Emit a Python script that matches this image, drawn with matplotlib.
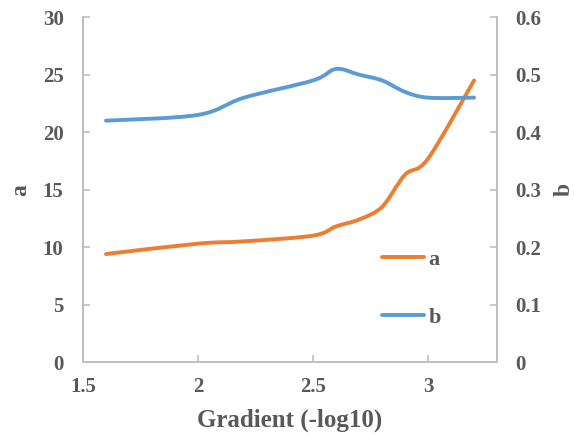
import numpy as np
import matplotlib
matplotlib.use('Agg')
import matplotlib.pyplot as plt
from matplotlib.path import Path
from matplotlib.patches import PathPatch
from matplotlib.lines import Line2D

# Data
gradient = [1.6, 2.0, 2.2, 2.5, 2.6, 2.7, 2.8, 2.9, 3.0, 3.2]
a_vals = [9.4, 10.3, 10.5, 11.0, 11.8, 12.4, 13.5, 16.3, 17.7, 24.5]
b_vals = [0.42, 0.43, 0.46, 0.49, 0.51, 0.50, 0.49, 0.47, 0.46, 0.46]

ORANGE = '#ED7D31'
BLUE = '#5B9BD5'
GREY = '#595959'
SPINE = '#BFBFBF'
LW = 2.8

plt.rcParams['font.family'] = ['Liberation Serif', 'DejaVu Serif']
plt.rcParams['font.weight'] = 'bold'


def smooth_path(xs, ys):
    # Excel-like smoothed line: cubic bezier through the points
    pts = np.column_stack([xs, ys]).astype(float)
    n = len(pts)
    verts = [pts[0]]
    codes = [Path.MOVETO]
    for i in range(n - 1):
        p0 = pts[i - 1] if i > 0 else pts[i]
        p1 = pts[i]
        p2 = pts[i + 1]
        p3 = pts[i + 2] if i + 2 < n else pts[i + 1]
        c1 = p1 + (p2 - p0) / 6.0
        c2 = p2 - (p3 - p1) / 6.0
        verts += [c1, c2, p2]
        codes += [Path.CURVE4] * 3
    return Path(verts, codes)


def add_series(ax, xs, ys, color):
    patch = PathPatch(smooth_path(xs, ys), facecolor='none', edgecolor=color,
                      linewidth=LW, capstyle='round', joinstyle='round')
    ax.add_patch(patch)


fig = plt.figure(figsize=(5.74, 4.41), dpi=100)
ax1 = fig.add_axes([0.1446, 0.179, 0.7214, 0.782])
ax2 = ax1.twinx()

add_series(ax1, gradient, a_vals, ORANGE)
add_series(ax2, gradient, b_vals, BLUE)

ax1.set_xlim(1.5, 3.3)
ax1.set_ylim(0, 30)
ax2.set_ylim(0, 0.6)
ax1.set_xticks([1.5, 2, 2.5, 3])
ax1.set_xticklabels(['1.5', '2', '2.5', '3'])
ax1.set_yticks(range(0, 31, 5))
ax2.set_yticks([0, 0.1, 0.2, 0.3, 0.4, 0.5, 0.6])
ax2.set_yticklabels(['0', '0.1', '0.2', '0.3', '0.4', '0.5', '0.6'])

for ax in (ax1, ax2):
    for s in ax.spines.values():
        s.set_color(SPINE)
        s.set_linewidth(1.3)
    ax.spines['top'].set_visible(False)

ax1.tick_params(axis='x', direction='in', length=5, width=1.2, color=SPINE,
                labelsize=15, labelcolor=GREY, pad=11)
ax1.tick_params(axis='y', direction='in', length=5, width=1.2, color=SPINE,
                labelsize=15, labelcolor=GREY, pad=14)
ax2.tick_params(axis='y', direction='in', length=5, width=1.2, color=SPINE,
                labelsize=15, labelcolor=GREY, pad=13)

ax1.set_xlabel('Gradient (-log10)', fontsize=18, color=GREY, fontweight='bold')
ax1.xaxis.set_label_coords(0.5, -0.134)
ax1.set_ylabel('a', fontsize=17, color=GREY, fontweight='bold')
ax1.yaxis.set_label_coords(-0.126, 0.5)
ax2.set_ylabel('b', fontsize=17, color=GREY, fontweight='bold', rotation=90)
ax2.yaxis.set_label_coords(1.137, 0.5)

handles = [Line2D([], [], color=ORANGE, linewidth=LW, solid_capstyle='round'),
           Line2D([], [], color=BLUE, linewidth=LW, solid_capstyle='round')]
ax1.legend(handles, ['a', 'b'], loc='upper left', bbox_to_anchor=(0.722, 0.326),
           frameon=False, fontsize=16, labelcolor=GREY, handlelength=1.9,
           handletextpad=0.2, labelspacing=1.67, borderpad=0, borderaxespad=0)

fig.savefig('out.png', dpi=100)
